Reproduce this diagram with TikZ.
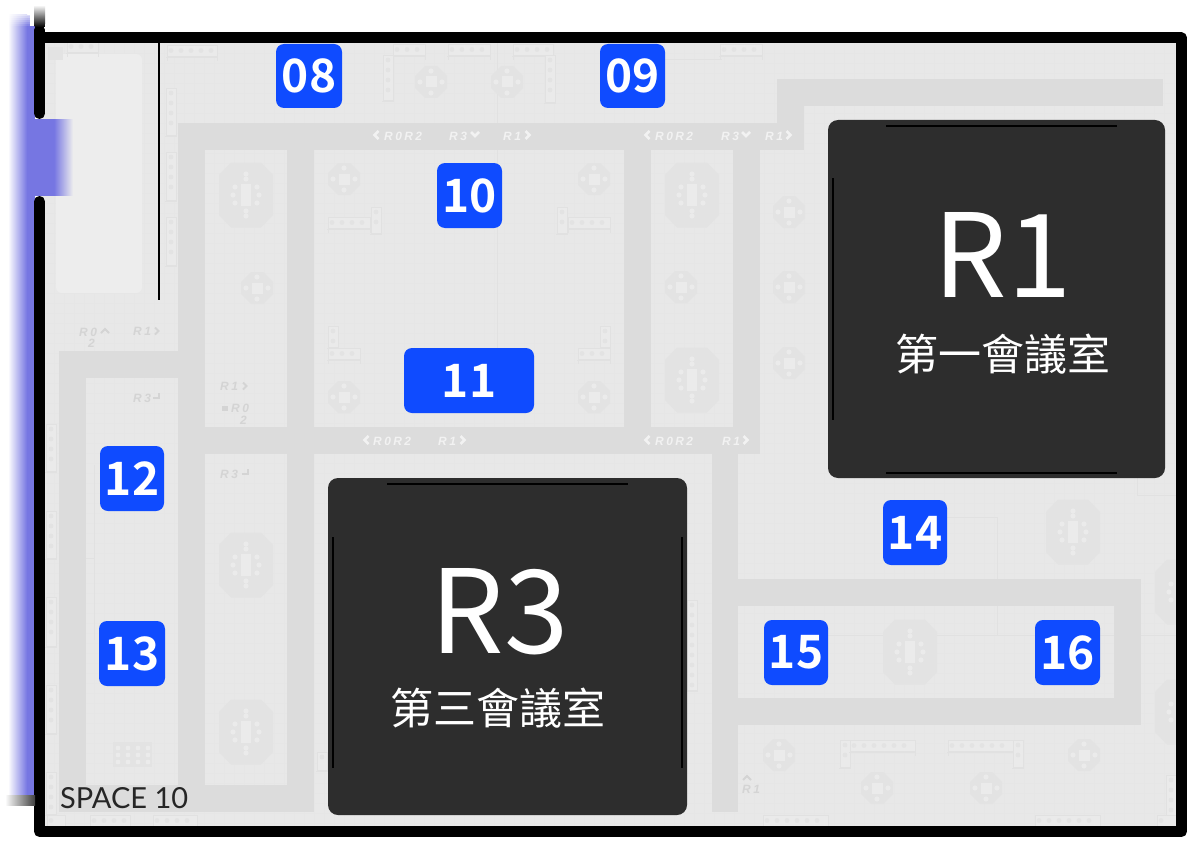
\documentclass[tikz,border=0pt]{standalone}
\usepackage{fontspec}
\setmainfont{Noto Sans CJK TC}
\newfontfamily\labfont[LetterSpace=20]{Liberation Sans}
\newfontfamily\spacefont{Lato}
\newfontfamily\badgefont[UprightFont=* Medium,BoldFont=* Bold]{Noto Sans CJK TC}
\definecolor{floorc}{HTML}{E8E8E8}
\definecolor{corr}{HTML}{DCDCDC}
\definecolor{gridc}{HTML}{E6E6E6}
\definecolor{furn}{HTML}{E3E3E3}
\definecolor{furnl}{HTML}{EBEBEB}
\definecolor{benchf}{HTML}{EAEAEA}
\definecolor{linec}{HTML}{E1E1E1}
\definecolor{badge}{HTML}{0F4BFF}
\definecolor{darkroom}{HTML}{2D2D2D}
\definecolor{glow}{HTML}{7676E2}
\definecolor{labw}{HTML}{F2F2F2}
\definecolor{labg}{HTML}{D4D4D4}
\newcommand{\FurnH}[3]{%
  \draw[thinfurn,fill=benchf] (#1,#3-6) rectangle (#2,#3+5);
  \draw[thinfurn] (#1-1,#3+6.5)--(#2+1,#3+6.5) (#1,#3+6.5)--(#1,#3+10) (#2,#3+6.5)--(#2,#3+10);
  \pgfmathsetmacro{\FurnN}{int((#2-#1)/10)}
  \foreach \i in {1,...,\FurnN}{\fill[furn] ({#1+\i*10-6},#3-0.5) circle (2.4);}
}
\newcommand{\FurnV}[3]{%
  \draw[thinfurn,fill=benchf] (#1-5,#2) rectangle (#1+5,#3);
  \draw[thinfurn] (#1-6,#3+1.5)--(#1+6,#3+1.5);
  \pgfmathsetmacro{\FurnN}{int((#3-#2)/10)}
  \foreach \i in {1,...,\FurnN}{\fill[furn] (#1,{#2+\i*10-5}) circle (2.4);}
}
\tikzset{
  corridor/.style={fill=corr,draw=none},
  badgebox/.style={fill=badge,draw=none,rounded corners=8pt,text=white,font=\badgefont\bfseries\fontsize{46}{46}\selectfont,inner sep=0pt},
  roombox/.style={fill=darkroom,draw=none,rounded corners=10pt},
  roomline/.style={black,line width=2pt},
  whitelab/.style={text=labw,font=\labfont\itshape\bfseries\fontsize{12}{12}\selectfont,inner sep=0pt},
  greylab/.style={text=labg,font=\labfont\itshape\bfseries\fontsize{12}{12}\selectfont,inner sep=0pt},
  thinfurn/.style={linec,line width=0.7pt},
  bigtable/.pic={
    \fill[furn] (-27,-20)--(-15,-32.5)--(15,-32.5)--(27,-20)--(27,20)--(15,32.5)--(-15,32.5)--(-27,20)--cycle;
    \fill[furnl] (-5,-11) rectangle (5,11);
    \foreach \p in {(0,-16),(0,-21),(0,16),(0,21),(-11,-8),(-13,0),(-11,8),(11,-8),(13,0),(11,8)}{\fill[furnl] \p circle (2.6);}
  },
  smalltable/.pic={
    \fill[furn] (-16,-6)--(-6,-16)--(6,-16)--(16,-6)--(16,6)--(6,16)--(-6,16)--(-16,6)--cycle;
    \fill[furnl] (-5.5,-5.5) rectangle (5.5,5.5);
    \foreach \p in {(0,-11),(0,11),(-11,0),(11,0)}{\fill[furnl] \p circle (2.6);}
  },
  chevl/.pic={\draw[labw,line width=2.6pt] (2.5,-4)--(-1.5,0)--(2.5,4);},
  chevr/.pic={\draw[labw,line width=2.6pt] (-2.5,-4)--(1.5,0)--(-2.5,4);},
  chevd/.pic={\draw[labw,line width=2.6pt] (-4,-2)--(0,2)--(4,-2);},
  gchevr/.pic={\draw[labg,line width=2pt] (-2,-3.5)--(1.5,0)--(-2,3.5);},
  gchevu/.pic={\draw[labg,line width=2pt] (-4,2)--(0,-2)--(4,2);},
  gret/.pic={\draw[labg,line width=1.5pt] (3,-4)--(3,1)--(-3,1);},
}
\begin{document}
\begin{tikzpicture}[x=1pt,y=-1pt]
\useasboundingbox (0,0) rectangle (1198,848);
\fill[white] (0,0) rectangle (1198,848);
% glow strip on the left
\shade[left color=white,right color=glow] (8,15) rectangle (27,795);
\fill[glow] (27,15) rectangle (35,795);
\foreach \i in {0,...,7}{\fill[white,opacity={1-\i/8}] (6,{10+2*\i}) rectangle (35,{12+2*\i});}
\fill[white] (6,5) rectangle (35,10);
% floor
\fill[floorc] (40,40) rectangle (1180,830);
\foreach \x in {54,64,...,1176}{\draw[gridc,line width=.4pt] (\x,43)--(\x,826);}
\foreach \y in {53,63,...,826}{\draw[gridc,line width=.4pt] (45,\y)--(1176,\y);}
\fill[black!7,rounded corners=6pt] (56,54) rectangle (142,293);
% corridors
\fill[corridor] (178,123) rectangle (804,150);
\fill[corridor] (777,79) rectangle (804,150);
\fill[corridor] (777,79) rectangle (1163,106);
\fill[corridor] (178,123) rectangle (205,378);
\fill[corridor] (59,351) rectangle (205,378);
\fill[corridor] (59,351) rectangle (86,812);
\fill[corridor] (178,378) rectangle (205,812);
\fill[corridor] (287,123) rectangle (314,812);
\fill[corridor] (59,785) rectangle (314,812);
\fill[corridor] (205,427) rectangle (760,454);
\fill[corridor] (624,123) rectangle (651,454);
\fill[corridor] (733,123) rectangle (760,454);
\fill[corridor] (712,454) rectangle (738,812);
\fill[corridor] (738,579) rectangle (1141,606);
\fill[corridor] (1114,579) rectangle (1141,725);
\fill[corridor] (738,698) rectangle (1141,725);
% thin room lines
\draw[thinfurn] (497,43)--(497,123) (497,150)--(497,348);
\draw[thinfurn] (947,517)--(997,517)--(997,579) (997,606)--(997,635) (828,635)--(1114,635) (1141,635)--(1176,635);
\draw[thinfurn] (1137,478)--(1137,495)--(1176,495);
\draw[thinfurn] (94,465)--(94,640) (86,558)--(94,558);
\draw[thinfurn] (665,59)--(722,59);
% furniture
\begin{scope}
\clip (45,43) rectangle (1176,826);
\foreach \p in {(246,195),(246,565),(246,732),(692,195),(692,380),(1073,532),(910,652),(1182,592),(1182,712)}{\pic at \p {bigtable};}
\foreach \p in {(257,288),(344,179),(594,179),(344,397),(594,397),(681,287),(789,212),(789,287),(789,363),(431,82),(507,82),(779,755),(877,788),(986,788),(1084,755)}{\pic at \p {smalltable};}
% benches along the top
\FurnH{393}{425}{50}
\FurnV{388}{55}{100}
\FurnH{448}{490}{50}
\FurnH{513}{553}{50}
\FurnV{550}{55}{102}
\FurnH{720}{762}{50}
\FurnH{167}{217}{51}
\FurnH{67}{98}{47}
\fill[furn] (48,47) rectangle (63,60);
% beside the partition
\FurnV{171}{88}{135}
\FurnV{171}{152}{200}
\FurnV{171}{217}{265}
% central room
\FurnH{328}{370}{223}
\FurnV{376}{207}{233}
\FurnV{333}{326}{347}
\FurnH{328}{360}{354}
\FurnH{568}{610}{223}
\FurnV{562}{207}{233}
\FurnV{605}{326}{347}
\FurnH{578}{610}{354}
% left wall
\FurnV{51}{424}{471}
\FurnV{51}{511}{558}
\FurnV{51}{597}{646}
\FurnV{51}{685}{733}
\FurnV{51}{772}{814}
% lower right
\FurnV{845}{740}{767}
\FurnH{850}{915}{746}
\FurnH{948}{1013}{746}
\FurnV{1018}{740}{767}
\FurnV{1171}{775}{815}
% bottom row
\foreach \a/\b in {47/65,90/130,153/197,763/828,1035/1100,1157/1176}{\FurnH{\a}{\b}{821}}
\FurnV{692}{600}{690}
\FurnV{322}{752}{770}
% mesh block
\fill[furn] (113,742) rectangle (152,767);
\foreach \i in {0,...,3}{\foreach \j in {0,1,2}{\fill[furnl] ({118+\i*10},{748+\j*7}) circle (2.4);}}
\end{scope}
% labels in the corridors
\node[whitelab,anchor=west] (l1a) at (384,136) {R0R2}; \pic at (376,135) {chevl};
\node[whitelab,anchor=west] (l1b) at (449,136) {R3}; \pic at (475,134) {chevd};
\node[whitelab,anchor=west] (l1c) at (503,136) {R1}; \pic at (528,135) {chevr};
\node[whitelab,anchor=west] (l2a) at (655,136) {R0R2}; \pic at (647,135) {chevl};
\node[whitelab,anchor=west] (l2b) at (721,136) {R3}; \pic at (746,134) {chevd};
\node[whitelab,anchor=west] (l2c) at (765,136) {R1}; \pic at (789,135) {chevr};
\node[whitelab,anchor=west] (l3a) at (373,441) {R0R2}; \pic at (366,440) {chevl};
\node[whitelab,anchor=west] (l3b) at (438,441) {R1}; \pic at (463,440) {chevr};
\node[whitelab,anchor=west] (l4a) at (655,441) {R0R2}; \pic at (647,440) {chevl};
\node[whitelab,anchor=west] (l4b) at (722,441) {R1}; \pic at (746,440) {chevr};
% faint labels on the floor
\node[greylab,anchor=west] (g1) at (79,332) {R0}; \pic at (105,331) {gchevu};
\node[greylab,anchor=west] (g2) at (88,343) {2};
\node[greylab,anchor=west] (g3) at (133,331) {R1}; \pic at (157,331) {gchevr};
\node[greylab,anchor=west] (g4) at (133,398) {R3}; \pic at (156,397) {gret};
\node[greylab,anchor=west] (g5) at (220,386) {R1}; \pic at (245,386) {gchevr};
\node[greylab,anchor=west] (g6) at (231,408) {R0}; \fill[labg] (222,406) rectangle (228,411);
\node[greylab,anchor=west] (g7) at (240,420) {2};
\node[greylab,anchor=west] (g8) at (220,474) {R3}; \pic at (245,473) {gret};
\node[greylab,anchor=west] (g9) at (742,789) {R1}; \pic at (747,778) {gchevu};
% dark rooms
\fill[roombox] (828,120) rectangle (1165,478);
\draw[roomline] (886,125.5)--(1117,125.5) (886,472.5)--(1117,472.5) (833,178)--(833,420);
\node[text=white,font=\fontsize{116}{116}\selectfont,inner sep=0pt] (r1) at (1003,255) {R1};
\node[text=white,font=\fontsize{43}{43}\selectfont,inner sep=0pt] (r1t) at (1002.5,354) {第一會議室};
\fill[roombox] (328,478) rectangle (687,815);
\draw[roomline] (387,483.5)--(628,483.5) (333,537)--(333,768) (682,537)--(682,768);
\node[text=white,font=\fontsize{116}{116}\selectfont,inner sep=0pt] (r3) at (500,612) {R3};
\node[text=white,font=\fontsize{43}{43}\selectfont,inner sep=0pt] (r3t) at (498,708) {第三會議室};
% walls
\draw[black,line width=11pt,line cap=round] (39.5,30)--(39.5,113.5);
\draw[black,line width=11pt,line join=round,line cap=round] (39.5,201.5)--(39.5,831.5)--(1181.5,831.5)--(1181.5,38)--(39.5,38);
\fill[white] (30,0) rectangle (46,26);
\shade[top color=white,bottom color=black] (34.5,5) rectangle (45,27);
\fill[white] (45,24) rectangle (60,32.5);
\draw[black,line width=2.5pt] (159,43)--(159,300);
% door glow
\shade[left color=glow,right color=black!7,middle color=glow] (35,120) rectangle (73,195);
% bottom shadow
\shade[left color=white,right color=black!75] (5,795) rectangle (35,805);
% badges
\node[badgebox,minimum width=66pt,minimum height=64pt] (b08) at (309,76) {08};
\node[badgebox,minimum width=65pt,minimum height=64pt] (b09) at (632.5,76) {09};
\node[badgebox,minimum width=65pt,minimum height=65pt] (b10) at (469.5,195.5) {10};
\node[badgebox,minimum width=130pt,minimum height=65pt] (b11) at (469,380.5) {11};
\node[badgebox,minimum width=64pt,minimum height=65pt] (b12) at (132,478.5) {12};
\node[badgebox,minimum width=66pt,minimum height=65pt] (b13) at (132,653.5) {13};
\node[badgebox,minimum width=64pt,minimum height=65pt] (b14) at (915,532.5) {14};
\node[badgebox,minimum width=64pt,minimum height=65pt] (b15) at (796,652.5) {15};
\node[badgebox,minimum width=65pt,minimum height=65pt] (b16) at (1067.5,652.5) {16};
\node[anchor=west,inner sep=0pt,text=black!85,font=\spacefont\fontsize{29}{29}\selectfont] (sp) at (60,798) {SPACE 10};
\end{tikzpicture}
\end{document}
